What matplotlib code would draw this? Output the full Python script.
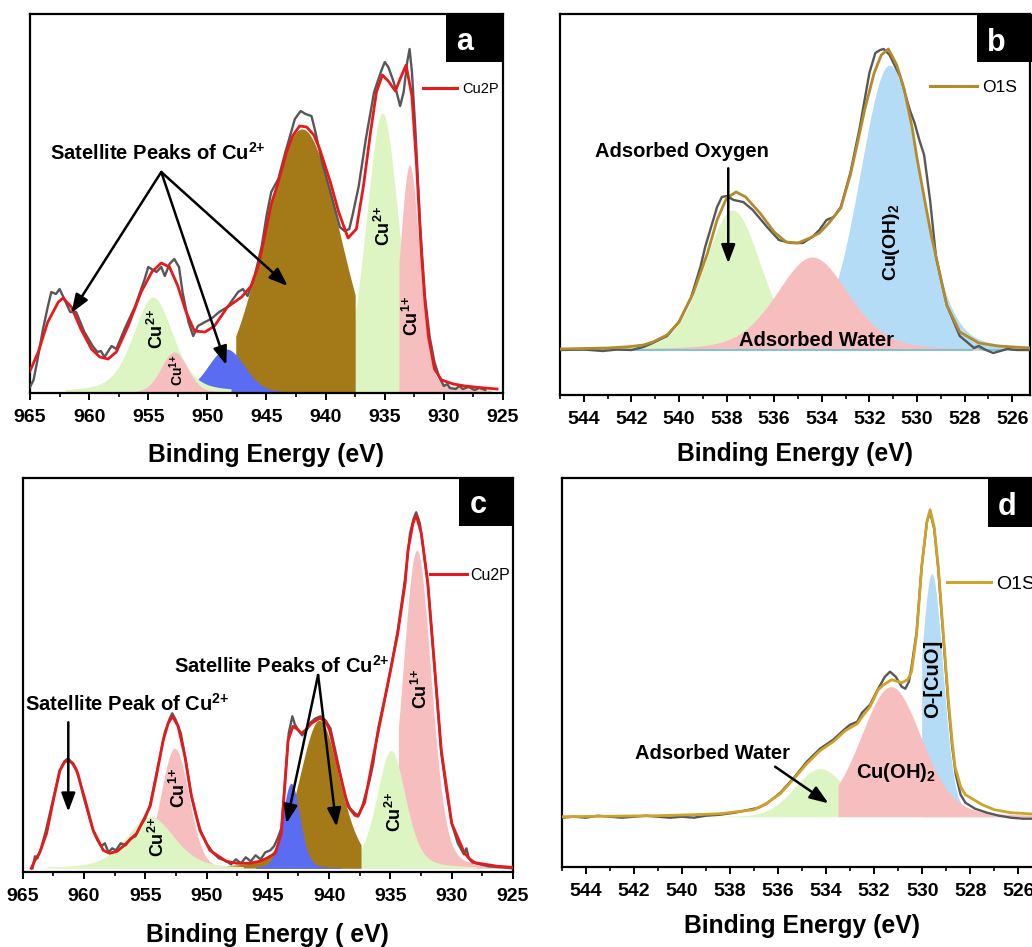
import numpy as np
import matplotlib
matplotlib.use('Agg')
import matplotlib.pyplot as plt
from matplotlib.patches import Rectangle
from matplotlib.lines import Line2D
from matplotlib.ticker import MultipleLocator

plt.rcParams['font.family'] = ['Liberation Sans', 'DejaVu Sans']
plt.rcParams['mathtext.fontset'] = 'custom'
plt.rcParams['mathtext.rm'] = 'Liberation Sans:bold'
plt.rcParams['mathtext.bf'] = 'Liberation Sans:bold'
plt.rcParams['mathtext.it'] = 'Liberation Sans:bold:italic'

# ---------------- (a) Cu 2p ----------------
a_raw_be = [965.0, 964.7, 964.4, 963.9, 963.5, 963.2, 962.8, 962.5, 962.1, 961.6,
            961.1, 960.4, 959.7, 959.3, 959.0, 958.7, 958.1, 957.7, 957.0, 956.1,
            955.3, 955.0, 954.3, 953.9, 953.6, 953.2, 952.8, 952.4, 952.1, 951.6,
            951.2, 950.8, 950.2, 949.7, 949.0, 948.3, 947.4, 947.0, 946.6, 946.0,
            945.4, 945.0, 944.6, 944.0, 943.4, 942.6, 942.1, 941.7, 941.2, 940.9,
            940.3, 939.5, 938.8, 938.4, 938.0, 937.7, 937.2, 936.6, 935.9, 935.3,
            935.0, 934.7, 934.3, 934.0, 933.7, 933.4, 933.1, 932.9, 932.7, 932.4,
            932.0, 931.6, 931.2, 930.8, 930.4, 930.0, 929.7, 929.5, 929.0, 928.7,
            928.4, 927.9, 927.4, 927.0, 926.5]
a_raw_int = [5, 12, 30, 63, 85, 100, 98, 103, 93, 80,
             80, 60, 46, 40, 41, 35, 46, 43, 63, 86,
             113, 125, 120, 125, 116, 128, 133, 125, 100, 70,
             56, 66, 70, 73, 80, 85, 100, 103, 96, 116,
             146, 176, 200, 213, 240, 273, 281, 278, 276, 262,
             230, 196, 165, 161, 163, 178, 206, 253, 300, 321,
             330, 325, 312, 300, 286, 300, 330, 343, 320, 260,
             165, 95, 55, 30, 15, 6, 8, 4, 3, 6,
             3, 5, 2, 4, 2]
a_fit_be = [965.0, 964.3, 963.5, 962.6, 962.2, 961.5, 960.7, 959.8, 959.1, 958.4,
            957.7, 956.7, 955.6, 954.7, 953.9, 953.2, 952.5, 951.8, 951.1, 950.2,
            949.4, 948.3, 947.1, 946.3, 945.7, 945.2, 944.6, 944.1, 943.3, 942.8,
            942.2, 941.6, 941.0, 940.5, 939.6, 938.9, 938.1, 937.4, 936.8, 936.2,
            935.7, 935.2, 934.7, 934.1, 933.7, 933.2, 932.7, 932.3, 931.9, 931.6,
            931.3, 930.8, 930.2, 929.2, 928.2, 927.0, 925.5]
a_fit_int = [21, 40, 70, 90, 94, 85, 63, 43, 35, 33,
             40, 66, 100, 120, 129, 125, 106, 80, 61, 60,
             66, 85, 95, 106, 126, 153, 188, 206, 240, 256,
             266, 265, 257, 243, 210, 180, 154, 163, 206, 260,
             300, 317, 311, 301, 313, 327, 296, 225, 138, 90,
             55, 23, 12, 8, 6, 4.5, 3]
# fitted components: centre, height, FWHM, Lorentzian fraction, energy range drawn
a_pk_center = [935.2, 932.9, 942.0, 948.4, 954.6, 952.8]
a_pk_height = [279, 227, 263, 43, 95, 40]
a_pk_fwhm = [3.3, 2.0, 7.5, 3.6, 4.0, 2.6]
a_pk_eta = [0.3, 0.3, 0.0, 0.1, 0.4, 0.1]
a_pk_lo = [926.0, 926.0, 937.5, 942.0, 948.0, 949.0]
a_pk_hi = [941.0, 933.8, 947.6, 954.0, 962.0, 956.0]

# ---------------- (b) O 1s ----------------
b_raw_be = [545.0, 544.0, 543.2, 542.6, 542.0, 541.5, 541.1, 540.5, 540.0, 539.5,
            539.1, 538.9, 538.4, 538.2, 538.0, 537.7, 537.3, 536.9, 536.3, 535.8,
            535.3, 534.8, 534.4, 534.1, 533.8, 533.5, 533.2, 532.8, 532.4, 532.0,
            531.75, 531.55, 531.4, 531.15, 530.7, 530.3, 530.1, 529.9, 529.7, 529.45,
            529.2, 528.75, 528.2, 527.6, 527.4, 527.1, 526.8, 526.5, 526.2, 525.8,
            525.25]
b_raw_int = [0, 0.5, -1, 0.5, 0, 3, 7, 14, 28, 52,
             83, 103, 143, 153, 154, 150, 148, 140, 123, 110,
             107, 107, 113, 120, 130, 133, 143, 177, 223, 277,
             297, 300, 301, 295, 273, 240, 227, 210, 195, 150,
             93, 45, 14, 2, 4, 0, -3, -1, 1, 0,
             0]
b_fit_be = [545.0, 544.0, 543.0, 542.1, 541.5, 541.1, 540.5, 540.0, 539.4, 538.8,
            538.4, 538.0, 537.6, 537.2, 536.6, 536.0, 535.5, 535.0, 534.5, 534.1,
            533.7, 533.2, 532.8, 532.5, 532.2, 531.8, 531.5, 531.2, 530.85, 530.55,
            530.2, 530.0, 529.6, 529.4, 529.15, 528.75, 528.2, 527.4, 526.6, 525.25]
b_fit_int = [1, 1.5, 2, 3.3, 5, 8, 15, 28, 57, 97,
             130, 152, 158, 153, 137, 118, 108, 107, 112, 117,
             127, 142, 175, 207, 240, 277, 295, 301, 285, 262,
             222, 192, 140, 115, 88, 45, 18, 7, 4, 2]
b_bg_be = [545.0, 527.7, 527.5, 527.35, 527.2, 526.35, 526.2, 526.05, 525.25]
b_bg_int = [0, 0, 4, 1, 0, 0, 3, 0, 0]
b_pk_center = [537.75, 531.15, 534.4]
b_pk_height = [140, 285, 93]
b_pk_fwhm = [2.8, 3.0, 3.6]
b_pk_eta = [0.2, 0.2, 0.3]
b_pk_lo = [525.25, 525.25, 525.25]
b_pk_hi = [545.0, 545.0, 545.0]

# ---------------- (c) Cu 2p ----------------
c_raw_be = [964.2, 964.0, 963.8, 963.5, 963.1, 962.5, 962.0, 961.6, 961.3, 960.9,
            960.5, 960.0, 959.5, 959.2, 958.9, 958.6, 958.3, 958.0, 957.7, 957.4,
            957.0, 956.6, 956.2, 955.8, 955.4, 955.0, 954.6, 954.2, 953.8, 953.4,
            953.0, 952.8, 952.5, 952.1, 951.7, 951.3, 950.9, 950.5, 950.0, 949.5,
            949.0, 948.5, 948.0, 947.6, 947.2, 946.8, 946.4, 946.0, 945.6, 945.2,
            944.8, 944.5, 944.2, 943.9, 943.6, 943.3, 943.0, 942.8, 942.5, 942.2,
            941.9, 941.5, 941.1, 940.7, 940.3, 939.9, 939.5, 939.1, 938.7, 938.3,
            937.9, 937.6, 937.3, 937.0, 936.7, 936.4, 936.0, 935.5, 935.0, 934.4,
            933.8, 933.4, 933.1, 932.9, 932.6, 932.3, 931.95, 931.4, 930.85, 930.4,
            930.0, 929.5, 929.0, 928.8, 928.6, 928.0, 927.0, 926.0, 925.0]
c_raw_int = [0, 12, 10, 20, 38, 70, 97, 107, 110, 104,
             95, 70, 48, 36, 28, 22, 25, 16, 20, 18,
             25, 23, 30, 32, 42, 50, 64, 88, 112, 136,
             150, 155, 148, 135, 108, 76, 55, 38, 25, 16,
             10, 8, 4, 9, 5, 11, 7, 13, 9, 16,
             18, 22, 30, 40, 88, 135, 152, 144, 138, 133,
             138, 146, 150, 152, 148, 140, 118, 95, 72, 60,
             55, 53, 62, 75, 88, 105, 140, 168, 198, 238,
             290, 335, 350, 356, 345, 318, 285, 200, 115, 75,
             45, 25, 14, 20, 10, 5, 2, 1, 0]
c_fit_be = [964.3, 964.0, 963.6, 963.05, 962.5, 961.96, 961.6, 961.28, 960.9, 960.6,
            959.9, 959.25, 958.43, 957.9, 957.3, 956.8, 955.7, 955.0, 954.6, 954.1,
            953.54, 953.13, 952.78, 952.32, 951.77, 951.23, 950.55, 949.73, 948.4, 947.5,
            946.5, 945.7, 945.1, 944.4, 943.9, 943.6, 943.35, 942.95, 942.6, 942.26,
            941.85, 941.45, 940.77, 940.3, 939.96, 939.28, 938.46, 937.9, 937.65, 937.1,
            936.3, 935.2, 934.4, 933.8, 933.57, 933.16, 932.9, 932.48, 931.95, 931.4,
            930.85, 930.0, 928.95, 928.3, 926.24, 925.0]
c_fit_int = [0, 8, 16, 35, 68, 98, 106, 108, 105, 98,
             68, 38, 18, 15, 17, 22, 35, 52, 62, 92,
             128, 145, 152, 142, 112, 72, 38, 18, 7, 5,
             5, 7, 10, 15, 35, 85, 128, 142, 139, 135,
             139, 145, 150, 147, 138, 102, 62, 53, 52, 66,
             118, 185, 235, 285, 318, 345, 353, 335, 285, 202,
             118, 45, 15, 6, 2, 1]
c_pk_center = [932.85, 934.95, 940.8, 943.1, 952.6, 954.6]
c_pk_height = [318, 118, 148, 85, 120, 52]
c_pk_fwhm = [2.75, 2.8, 3.9, 1.7, 2.7, 4.6]
c_pk_eta = [0.2, 0.35, 0.3, 0.2, 0.1, 0.4]
c_pk_lo = [926.0, 928.0, 937.4, 939.0, 946.0, 947.0]
c_pk_hi = [934.35, 940.0, 948.5, 946.0, 957.0, 963.0]

# ---------------- (d) O 1s ----------------
d_raw_be = [545.0, 544.5, 544.0, 543.5, 543.0, 542.5, 542.0, 541.5, 541.0, 540.5,
            540.0, 539.5, 539.0, 538.4, 537.8, 537.2, 536.8, 536.47, 535.9, 535.3,
            534.8, 534.25, 533.7, 533.2, 533.0, 532.7, 532.5, 532.17, 531.83, 531.55,
            531.34, 531.1, 530.85, 530.7, 530.55, 530.44, 530.23, 530.02, 529.8, 529.67,
            529.5, 529.33, 529.12, 528.91, 528.75, 528.6, 528.4, 528.2, 527.8, 527.3,
            526.8, 526.3, 525.8, 525.0]
d_raw_int = [-1, 0, -1, 1, 0, -1, 0, 1, 0, -1,
             0, -1, 1, 2, 4, 7, 9, 13, 24, 40,
             55, 68, 77, 88, 92, 95, 104, 112, 128, 140,
             145, 140, 130, 128, 135, 150, 185, 250, 295, 305,
             288, 248, 180, 112, 70, 42, 22, 14, 8, 4,
             1, -1, -2, -2]
d_fit_be = [545.0, 543.0, 541.0, 539.5, 538.4, 537.0, 536.5, 535.9, 535.3, 534.8,
            534.25, 533.7, 533.2, 532.7, 532.5, 532.17, 531.83, 531.6, 531.27, 530.85,
            530.6, 530.44, 530.23, 530.02, 529.9, 529.8, 529.67, 529.5, 529.33, 529.12,
            528.91, 528.75, 528.63, 528.4, 528.2, 527.5, 527.0, 526.3, 525.6, 525.0]
d_fit_int = [0, 0.5, 1, 2, 3, 7, 13, 23, 39, 53,
             66, 75, 86, 93, 100, 110, 127, 132, 137, 134,
             137, 145, 182, 250, 275, 295, 307, 290, 250, 183,
             117, 75, 50, 30, 22, 12, 7, 4, 3, 2]
d_pk_center = [534.25, 529.6, 531.3]
d_pk_height = [48, 243, 130]
d_pk_fwhm = [2.5, 1.1, 3.0]
d_pk_eta = [0.1, 0.15, 0.2]
d_pk_lo = [525.0, 525.0, 525.0]
d_pk_hi = [545.0, 530.02, 533.5]

# colours
GREEN = '#DCF5C2'
PINK = '#F7BEC0'
BLUE = '#5A6CF2'
BROWN = '#A47A19'
LBLUE = '#B5DCF7'
RED = '#E8191C'
GRAY = '#575757'
a_pk_colors = [GREEN, PINK, BROWN, BLUE, GREEN, PINK]
b_pk_colors = [GREEN, LBLUE, PINK]
c_pk_colors = [PINK, GREEN, BROWN, BLUE, PINK, GREEN]
d_pk_colors = [GREEN, LBLUE, PINK]


def pseudo_voigt(x, c, h, w, eta):
    z = ((x - c) / w) ** 2
    return h * ((1 - eta) * np.exp(-4 * np.log(2) * z) + eta / (1 + 4 * z))


def fill_peaks(ax, centers, heights, fwhms, etas, los, his, colors):
    for c, h, w, eta, lo, hi, col in zip(centers, heights, fwhms, etas, los, his, colors):
        x = np.linspace(lo, hi, 800)
        ax.fill_between(x, 0, pseudo_voigt(x, c, h, w, eta), color=col, lw=0, zorder=1)


def style_axis(ax, xlim, ylim, major, minor, xlabel, lpad):
    ax.set_xlim(*xlim)
    ax.set_ylim(*ylim)
    ax.xaxis.set_major_locator(MultipleLocator(major))
    ax.xaxis.set_minor_locator(MultipleLocator(minor))
    ax.set_yticks([])
    ax.tick_params(axis='x', which='major', direction='out', length=5, width=1.4,
                   labelsize=14, pad=6.5)
    ax.tick_params(axis='x', which='minor', direction='out', length=3, width=1.2)
    plt.setp(ax.get_xticklabels(), fontweight='bold')
    for s in ax.spines.values():
        s.set_linewidth(1.6)
    ax.set_xlabel(xlabel, fontsize=17.8, fontweight='bold', labelpad=lpad)


def panel_tag(ax, letter, x0, y0, x1, xt, yt):
    ax.add_patch(Rectangle((x0, y0), x1 - x0, 1 - y0, transform=ax.transAxes,
                           facecolor='black', edgecolor='none', clip_on=False, zorder=6))
    ax.text(xt, yt, letter, transform=ax.transAxes, color='white', fontsize=22,
            fontweight='bold', ha='center', va='baseline', zorder=7)


def arrow(ax, start, end):
    ax.annotate('', xy=end, xytext=start,
                arrowprops=dict(arrowstyle='-|>,head_length=0.8,head_width=0.3',
                                lw=1.8, color='black', mutation_scale=14,
                                shrinkA=0, shrinkB=0), zorder=8)


def add_legend(ax, color, label, anchor, fs, hl, tp):
    h = Line2D([], [], color=color, lw=2.2)
    ax.legend(handles=[h], labels=[label], loc='center left', bbox_to_anchor=anchor,
              frameon=False, fontsize=fs, handlelength=hl, handletextpad=tp,
              borderpad=0, borderaxespad=0)


fig = plt.figure(figsize=(10.32, 9.47), dpi=100)
ax_a = fig.add_axes([0.02907, 0.58500, 0.45833, 0.40021])
ax_b = fig.add_axes([0.54264, 0.58289, 0.45543, 0.40232])
ax_c = fig.add_axes([0.02200, 0.07951, 0.47510, 0.41542])
ax_d = fig.add_axes([0.54428, 0.08479, 0.46570, 0.41014])

# braces keep the "+" from being spaced as an operator
cu2 = r'Cu$^{2{+}}$'
cu1 = r'Cu$^{1{+}}$'
bold = dict(fontweight='bold', color='black', zorder=9)
NOTE = 14.5

# ---- panel a ----
fill_peaks(ax_a, a_pk_center, a_pk_height, a_pk_fwhm, a_pk_eta, a_pk_lo, a_pk_hi, a_pk_colors)
ax_a.plot(a_raw_be, a_raw_int, color=GRAY, lw=1.7, zorder=3)
ax_a.plot(a_fit_be, a_fit_int, color=RED, lw=2.0, zorder=4)
style_axis(ax_a, (965, 925), (-1, 378), 5, 2.5, 'Binding Energy (eV)', 12.5)
add_legend(ax_a, RED, 'Cu2P', (0.831, 0.802), 10.5, 2.33, 0.34)
panel_tag(ax_a, 'a', 0.8795, 0.873, 1.0, 0.9197, 0.905)
ax_a.text(954.15, 232, 'Satellite Peaks of ' + cu2, fontsize=NOTE,
          ha='center', va='baseline', **bold)
for tgt in [(961.5, 79), (948.4, 27), (943.2, 106)]:
    arrow(ax_a, (953.9, 220), tgt)
ax_a.text(954.23, 63, cu2, rotation=90, fontsize=13, ha='center', va='center', **bold)
ax_a.text(952.6, 22, cu1, rotation=90, fontsize=10, ha='center', va='center', **bold)
ax_a.text(935.1, 166, cu2, rotation=90, fontsize=13, ha='center', va='center', **bold)
ax_a.text(932.67, 76, cu1, rotation=90, fontsize=13, ha='center', va='center', **bold)

# ---- panel b ----
fill_peaks(ax_b, b_pk_center, b_pk_height, b_pk_fwhm, b_pk_eta, b_pk_lo, b_pk_hi, b_pk_colors)
ax_b.plot(b_bg_be, b_bg_int, color='#62C6DC', lw=1.2, zorder=2)
ax_b.plot(b_raw_be, b_raw_int, color=GRAY, lw=1.7, zorder=3)
ax_b.plot(b_fit_be, b_fit_int, color='#B38B2D', lw=2.0, zorder=4)
style_axis(ax_b, (545, 525.25), (-45, 336), 2, 1, 'Binding Energy (eV)', 10)
add_legend(ax_b, '#B38B2D', 'O1S', (0.787, 0.8076), 12.5, 2.7, 0.29)
panel_tag(ax_b, 'b', 0.8866, 0.874, 1.005, 0.929, 0.9037)
ax_b.text(539.89, 193, 'Adsorbed Oxygen', fontsize=NOTE, ha='center', va='baseline', **bold)
arrow(ax_b, (537.93, 181.7), (537.93, 86.7))
ax_b.text(534.24, 4.3, 'Adsorbed Water', fontsize=NOTE, ha='center', va='baseline', **bold)
ax_b.text(531.06, 108, r'Cu(OH)$_2$', rotation=90, fontsize=14,
          ha='center', va='center', **bold)

# ---- panel c ----
fill_peaks(ax_c, c_pk_center, c_pk_height, c_pk_fwhm, c_pk_eta, c_pk_lo, c_pk_hi, c_pk_colors)
ax_c.plot(c_raw_be, c_raw_int, color=GRAY, lw=1.7, zorder=3)
ax_c.plot(c_fit_be, c_fit_int, color=RED, lw=2.0, zorder=4)
style_axis(ax_c, (965, 925), (-3.4, 390), 5, 2.5, 'Binding Energy ( eV)', 13.5)
add_legend(ax_c, RED, 'Cu2P', (0.8307, 0.754), 11.5, 2.3, 0.2)
panel_tag(ax_c, 'c', 0.89, 0.879, 1.0, 0.929, 0.911)
ax_c.text(956.5, 157.6, 'Satellite Peak of ' + cu2, fontsize=NOTE,
          ha='center', va='baseline', **bold)
arrow(ax_c, (961.28, 146), (961.28, 56.6))
ax_c.text(943.84, 195.6, 'Satellite Peaks of ' + cu2, fontsize=NOTE,
          ha='center', va='baseline', **bold)
for tgt in [(943.48, 45), (939.4, 41.6)]:
    arrow(ax_c, (940.9, 193.3), tgt)
ax_c.text(953.95, 31, cu2, rotation=90, fontsize=13, ha='center', va='center', **bold)
ax_c.text(952.26, 80, cu1, rotation=90, fontsize=13, ha='center', va='center', **bold)
ax_c.text(934.66, 56, cu2, rotation=90, fontsize=13, ha='center', va='center', **bold)
ax_c.text(932.48, 179, cu1, rotation=90, fontsize=13, ha='center', va='center', **bold)

# ---- panel d ----
fill_peaks(ax_d, d_pk_center, d_pk_height, d_pk_fwhm, d_pk_eta, d_pk_lo, d_pk_hi, d_pk_colors)
ax_d.plot(d_raw_be, d_raw_int, color=GRAY, lw=1.7, zorder=3)
ax_d.plot(d_fit_be, d_fit_int, color='#CFA32A', lw=2.0, zorder=4)
style_axis(ax_d, (545, 525), (-50, 338.4), 2, 1, 'Binding Energy (eV)', 10)
add_legend(ax_d, '#CFA32A', 'O1S', (0.801, 0.728), 14, 2.3, 0.26)
panel_tag(ax_d, 'd', 0.887, 0.8746, 1.02, 0.9266, 0.9055)
ax_d.text(538.72, 58, 'Adsorbed Water', fontsize=NOTE, ha='center', va='baseline', **bold)
arrow(ax_d, (536.12, 50), (533.9, 13.4))
ax_d.text(531.1, 38.4, r'Cu(OH)$_2$', fontsize=NOTE, ha='center', va='baseline', **bold)
ax_d.text(529.58, 138, 'O-[CuO]', rotation=90, fontsize=14.5, ha='center', va='center', **bold)

fig.savefig('out.png', dpi=100, facecolor='white')
